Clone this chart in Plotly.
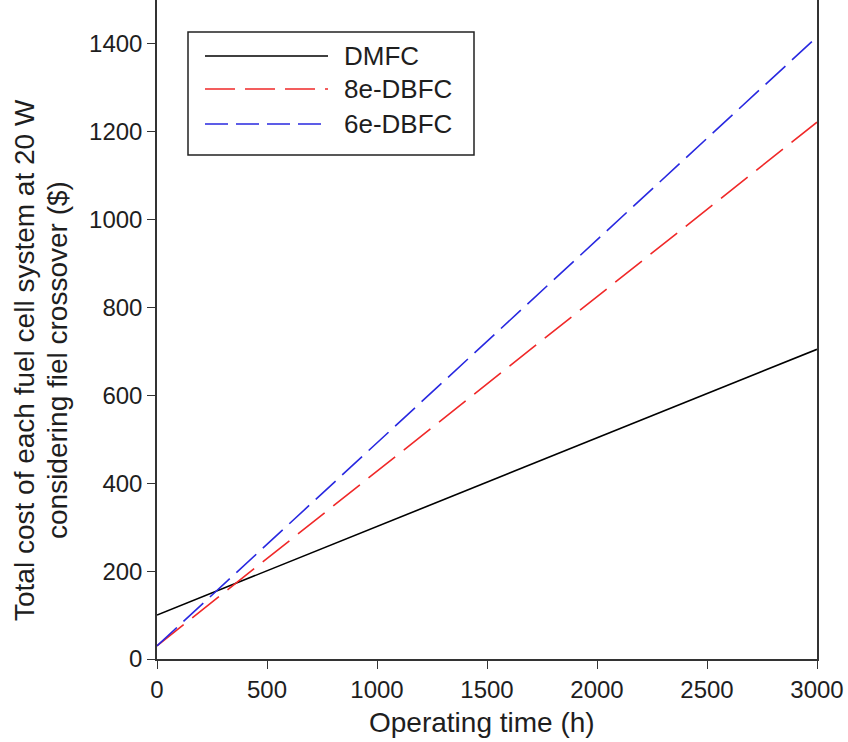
import plotly.graph_objects as go

# Operating time (h) and total system cost ($) for each fuel cell type
hours = [0, 3000]
dmfc_cost = [100, 705]
dbfc8_cost = [30, 1222]
dbfc6_cost = [30, 1416]

series_names = ["DMFC", "8e-DBFC", "6e-DBFC"]
series_colors = ["#000000", "#f02828", "#2828e0"]
series_dashes = ["solid", "34px,11px", "27px,9px"]
legend_dashes = ["solid", "30px,10px", "23px,8px"]
series_values = [dmfc_cost, dbfc8_cost, dbfc6_cost]

x_ticks = [0, 500, 1000, 1500, 2000, 2500, 3000]
y_ticks = [0, 200, 400, 600, 800, 1000, 1200, 1400]

x_title = "Operating time (h)"
y_title_lines = ["Total cost of each fuel cell system at 20 W",
                 "considering fiel crossover ($)"]

FONT = "Liberation Sans, Arial, sans-serif"
TEXT = "#1e1e1e"

fig = go.Figure()
for name, color, dash, vals in zip(series_names, series_colors, series_dashes, series_values):
    fig.add_trace(go.Scatter(
        x=hours, y=vals, mode="lines", name=name,
        line=dict(color=color, width=1.6, dash=dash),
        showlegend=False,
    ))

# Pixel layout converted to paper units
W, H = 848 - 157 - 31, 659
def px(xp):
    return (xp - 157) / W
def py(yp):
    return 1 - yp / H

# Boxed legend with long line samples
shapes = [dict(type="rect", xref="paper", yref="paper",
               x0=px(188), x1=px(474), y0=py(155), y1=py(32),
               line=dict(color="#222222", width=1.5), fillcolor="white")]
annotations = []
for i, (name, color, dash) in enumerate(zip(series_names, series_colors, legend_dashes)):
    yy = [56, 89, 124][i]
    shapes.append(dict(type="line", xref="paper", yref="paper",
                       x0=px(205), x1=px(328), y0=py(yy), y1=py(yy),
                       line=dict(color=color, width=1.6, dash=dash)))
    annotations.append(dict(xref="paper", yref="paper", x=px(342), y=py(yy),
                            text=name, showarrow=False, xanchor="left", yanchor="middle",
                            font=dict(family=FONT, size=26, color=TEXT)))

# Axis titles
annotations.append(dict(xref="paper", yref="paper", x=px(482), y=py(723),
                        text=x_title, showarrow=False, xanchor="center", yanchor="middle",
                        font=dict(family=FONT, size=28, color=TEXT)))
for xc, line in zip([25, 58], y_title_lines):
    annotations.append(dict(xref="paper", yref="paper", x=px(xc), y=py(360),
                            text=line, textangle=-90, showarrow=False,
                            xanchor="center", yanchor="middle",
                            font=dict(family=FONT, size=28, color=TEXT)))

axis_common = dict(
    showline=True, linecolor="#333333", linewidth=1.5, mirror=True,
    ticks="outside", ticklen=8, tickwidth=1.2, tickcolor="#333333",
    showgrid=False, zeroline=False, automargin=False,
    tickfont=dict(family=FONT, size=24, color=TEXT),
)

fig.update_layout(
    width=848, height=742,
    margin=dict(l=157, r=31, t=0, b=83),
    plot_bgcolor="white", paper_bgcolor="white",
    shapes=shapes, annotations=annotations,
    xaxis=dict(range=[0, 3000], tickvals=x_ticks, **axis_common),
    yaxis=dict(range=[0, 1500], tickvals=y_ticks, **axis_common),
)

fig.write_html("out.html")
